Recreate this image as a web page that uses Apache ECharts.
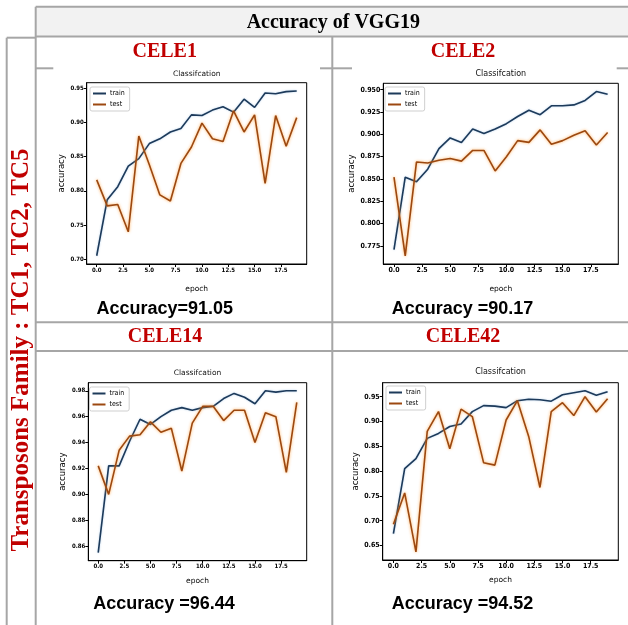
<!DOCTYPE html>
<html><head><meta charset="utf-8">
<script src="https://cdn.jsdelivr.net/npm/echarts@6/dist/echarts.min.js"></script>
<style>html,body{margin:0;padding:0;background:#fff}#c{width:628px;height:625px}</style>
</head><body><div id="c"></div><script>
// ---------- data ----------
const epochs = [0,1,2,3,4,5,6,7,8,9,10,11,12,13,14,15,16,17,18,19];
const xTicks = [0,2.5,5,7.5,10,12.5,15,17.5];
const seriesNames = ['train','test'];
const plotTitle = 'Classifcation';
const xName = 'epoch';
const yName = 'accuracy';
const tableTitle = 'Accuracy of VGG19';
const rowLabel = 'Transposons Family : TC1, TC2, TC5';
const panelNames = ['CELE1','CELE2','CELE14','CELE42'];
const accuracyTexts = ['Accuracy=91.05','Accuracy =90.17','Accuracy =96.44','Accuracy =94.52'];

const cele1Train = [0.705,0.787,0.806,0.836,0.847,0.869,0.876,0.886,0.891,0.911,0.910,0.918,0.923,0.915,0.934,0.922,0.943,0.942,0.945,0.946];
const cele1Test  = [0.816,0.778,0.780,0.740,0.880,0.838,0.794,0.785,0.840,0.864,0.899,0.876,0.872,0.917,0.886,0.911,0.811,0.910,0.865,0.907];
const cele1YTicks = [0.70,0.75,0.80,0.85,0.90,0.95];

const cele2Train = [0.771,0.852,0.847,0.861,0.884,0.896,0.891,0.906,0.901,0.906,0.912,0.920,0.927,0.922,0.932,0.932,0.933,0.938,0.948,0.945];
const cele2Test  = [0.852,0.764,0.869,0.868,0.871,0.873,0.870,0.882,0.882,0.859,0.875,0.893,0.891,0.905,0.889,0.893,0.899,0.904,0.888,0.902];
const cele2YTicks = [0.775,0.800,0.825,0.850,0.875,0.900,0.925,0.950];

const cele14Train = [0.855,0.922,0.922,0.941,0.958,0.954,0.960,0.965,0.967,0.965,0.967,0.968,0.974,0.978,0.975,0.970,0.980,0.979,0.980,0.980];
const cele14Test  = [0.922,0.900,0.934,0.945,0.946,0.956,0.948,0.951,0.918,0.955,0.968,0.968,0.957,0.965,0.965,0.940,0.963,0.960,0.917,0.971];
const cele14YTicks = [0.86,0.88,0.90,0.92,0.94,0.96,0.98];

const cele42Train = [0.674,0.805,0.825,0.866,0.876,0.890,0.895,0.920,0.932,0.931,0.928,0.942,0.945,0.944,0.941,0.954,0.958,0.962,0.953,0.960];
const cele42Test  = [0.693,0.756,0.637,0.880,0.920,0.845,0.925,0.910,0.817,0.812,0.903,0.942,0.870,0.767,0.920,0.938,0.912,0.950,0.919,0.946];
const cele42YTicks = [0.65,0.70,0.75,0.80,0.85,0.90,0.95];

// ---------- layout / style ----------
const trainData = [cele1Train, cele2Train, cele14Train, cele42Train];
const testData  = [cele1Test, cele2Test, cele14Test, cele42Test];
const yTicks = [cele1YTicks, cele2YTicks, cele14YTicks, cele42YTicks];
const panels = [
  {left:86.7, top:82.7, w:220, h:181.3, dec:2, fs:6, tfs:7.5, yGap:20.5, xGap:20.8, titleY:70.5, lg:[90,87], name:[164.7,51.7], acc:[164.7,309.3]},
  {left:383.3, top:83.3, w:235, h:180.7, dec:3, fs:7, tfs:8, yGap:26, xGap:20.8, titleY:70, lg:[385,87], name:[463,51.7], acc:[462.5,309.3]},
  {left:88.3, top:382.7, w:218.4, h:178, dec:2, fs:6, tfs:7.5, yGap:21, xGap:16.5, titleY:369, lg:[89.5,387], name:[165,336.7], acc:[164,604]},
  {left:382.7, top:382.7, w:235.6, h:177.3, dec:2, fs:7, tfs:8, yGap:16.5, xGap:16.2, titleY:367.5, lg:[386,386], name:[463,336.7], acc:[462.5,604]}
];
const trainColor = '#1d3a5a';
const testColor = '#9c4810';
const tickFont = "'DejaVu Sans Condensed','DejaVu Sans',sans-serif";
const nameFont = "'DejaVu Sans',sans-serif";
const gridLineColor = '#a6a6a6';

const grids=[], xAxes=[], yAxes=[], series=[], titles=[], legends=[];
panels.forEach((p,i)=>{
  grids.push({left:p.left, top:p.top, width:p.w, height:p.h, show:true, borderColor:'#000', borderWidth:1, backgroundColor:'#fff', containLabel:false, outerBoundsMode:'none'});
  xAxes.push({type:'value', gridIndex:i, min:-0.95, max:19.95,
    name:xName, nameLocation:'middle', nameGap:p.xGap,
    nameTextStyle:{fontSize:7.5, fontFamily:nameFont, color:'#000'},
    axisLine:{show:true, onZero:false, lineStyle:{color:'#000', width:1}},
    axisTick:{show:true, length:3, customValues:xTicks, lineStyle:{color:'#000'}},
    axisLabel:{show:true, customValues:xTicks, margin:3, fontSize:p.fs, fontWeight:'bold', fontFamily:tickFont, color:'#000', formatter:v=>Number(v).toFixed(1)},
    splitLine:{show:false}});
  yAxes.push({type:'value', gridIndex:i,
    min:v=>v.min-0.05*(v.max-v.min), max:v=>v.max+0.05*(v.max-v.min),
    name:yName, nameLocation:'middle', nameGap:p.yGap,
    nameTextStyle:{fontSize:8.5, fontFamily:nameFont, color:'#000'},
    axisLine:{show:true, onZero:false, lineStyle:{color:'#000', width:1}},
    axisTick:{show:true, length:3, customValues:yTicks[i], lineStyle:{color:'#000'}},
    axisLabel:{show:true, customValues:yTicks[i], margin:3, fontSize:p.fs, fontWeight:'bold', fontFamily:tickFont, color:'#000', formatter:v=>Number(v).toFixed(p.dec)},
    splitLine:{show:false}});
  series.push({type:'line', name:seriesNames[0], xAxisIndex:i, yAxisIndex:i, symbol:'none', showSymbol:false, animation:false,
    data:epochs.map((e,k)=>[e, trainData[i][k]]),
    lineStyle:{color:trainColor, width:1.6, shadowColor:'rgba(90,150,210,0.45)', shadowBlur:2},
    itemStyle:{color:trainColor}});
  series.push({type:'line', name:seriesNames[1], xAxisIndex:i, yAxisIndex:i, symbol:'none', showSymbol:false, animation:false,
    data:epochs.map((e,k)=>[e, testData[i][k]]),
    lineStyle:{color:testColor, width:1.6, shadowColor:'rgba(255,150,40,0.8)', shadowBlur:3},
    itemStyle:{color:testColor}});
  titles.push({text:plotTitle, left:p.left+p.w/2, top:p.titleY, textAlign:'center', padding:0,
    textStyle:{fontSize:p.tfs, fontWeight:'normal', fontFamily:nameFont, color:'#111'}});
  legends.push({data:seriesNames, orient:'vertical', left:p.lg[0], top:p.lg[1], icon:'rect', itemWidth:13, itemHeight:2, itemGap:4,
    padding:[3,5,3,3], borderColor:'#cfcfcf', borderWidth:1, borderRadius:2, backgroundColor:'#fff',
    selectedMode:false, textStyle:{fontSize:7, fontFamily:tickFont, color:'#000', padding:[0,0,0,-1]}});
});

// table lines and texts
const lines = [
  [35.7,6.7,628,6.7],[35.7,36.5,628,36.5],[6.7,37.7,35.7,37.7],
  [6.7,37.7,6.7,625],[35.7,6.7,35.7,625],[332.3,36.5,332.3,625],
  [35.7,322.3,628,322.3],[35.7,351,628,351],
  [35.7,68.3,53.3,68.3],[320,68.3,352,68.3],[616.7,68.3,628,68.3]
];
const graphics = [
  {type:'rect', shape:{x:35.7,y:6.7,width:592.3,height:29.8}, style:{fill:'#f2f2f2'}, z:-1, silent:true}
];
lines.forEach(l=>graphics.push({type:'line', shape:{x1:l[0],y1:l[1],x2:l[2],y2:l[3]}, style:{stroke:gridLineColor, lineWidth:2}, silent:true}));
graphics.push({type:'text', x:333.3, y:23.3, style:{text:tableTitle, fill:'#000', font:"bold 20px 'Liberation Serif','Times New Roman',serif", align:'center', verticalAlign:'middle'}});
graphics.push({type:'text', x:21.5, y:350, rotation:Math.PI/2, style:{text:rowLabel, fill:'#c00000', font:"bold 25px 'Liberation Serif','Times New Roman',serif", align:'center', verticalAlign:'middle'}});
panels.forEach((p,i)=>{
  graphics.push({type:'text', x:p.name[0], y:p.name[1], style:{text:panelNames[i], fill:'#c00000', font:"bold 20px 'Liberation Serif','Times New Roman',serif", align:'center', verticalAlign:'middle'}});
  graphics.push({type:'text', x:p.acc[0], y:p.acc[1], style:{text:accuracyTexts[i], fill:'#000', font:"bold 18px 'Liberation Sans',Arial,sans-serif", align:'center', verticalAlign:'middle'}});
});

const chart = echarts.init(document.getElementById('c'), null, {renderer:'canvas'});
chart.setOption({animation:false, backgroundColor:'#fff', grid:grids, xAxis:xAxes, yAxis:yAxes, series:series, title:titles, legend:legends, graphic:graphics});
</script></body></html>
